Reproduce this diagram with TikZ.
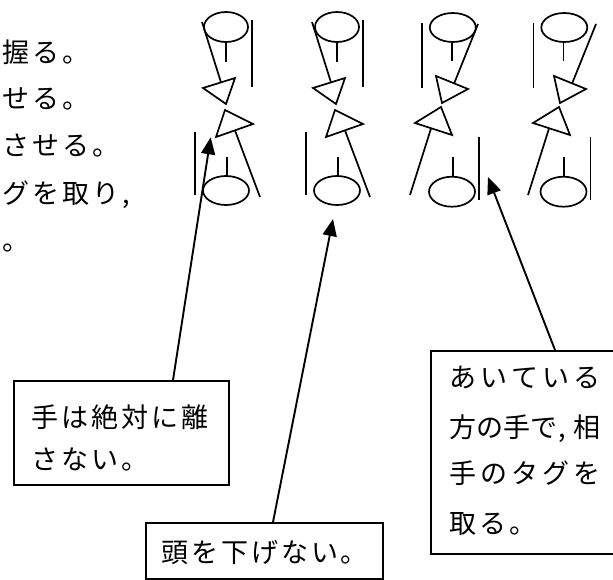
\documentclass[tikz,border=0pt]{standalone}
\usepackage{fontspec}
\usetikzlibrary{arrows.meta}
\newfontfamily\jp[LetterSpace=11]{Noto Sans CJK JP}
\newfontfamily\jpn{Noto Sans CJK JP}

\tikzset{
  fig/.style={line width=1.7pt, line join=miter},
  boxstyle/.style={draw, line width=1.9pt, inner sep=0pt},
  callout/.style={line width=1.9pt, -{Triangle[length=17pt,width=14pt]}},
  jtext/.style={anchor=west, inner sep=0pt, text height=23.8pt, text depth=3.2pt,
    font=\fontsize{27}{32}\jp},
  % player facing down: heads, necks and side lines
  frameA/.pic={
    \draw[fig] (226,27) ellipse [x radius=22, y radius=15];
    \draw[fig] (226,42) -- (226,62);
    \draw[fig] (252,20) -- (252,87);
    \draw[fig] (226,190.5) ellipse [x radius=23, y radius=14.5];
    \draw[fig] (227,157) -- (227,176);
    \draw[fig] (195,132) -- (195,195);
  },
  % player facing down: arms and hands
  bodyA/.pic={
    \draw[fig] (202,22) -- (221,82.4);
    \draw[fig] (203,88) -- (235,78) -- (226,104) -- cycle;
    \draw[fig] (225,110) -- (253,124) -- (216,137) -- cycle;
    \draw[fig] (235,130.5) -- (260,197);
  },
  % mirrored player: heads, necks and side lines
  frameB/.pic={
    \draw[fig] (452.8,27.5) ellipse [x radius=23, y radius=14.5];
    \draw[fig] (452,42) -- (452,61);
    \draw[fig] (422,23) -- (422,88);
    \draw[fig] (452,191.7) ellipse [x radius=23, y radius=15];
    \draw[fig] (452.7,157) -- (452.7,177);
    \draw[fig] (479,137) -- (479,200);
  },
  % mirrored player: arms and hands
  bodyB/.pic={
    \draw[fig] (478,24) -- (454.3,83);
    \draw[fig] (436,76) -- (468,89) -- (442,103) -- cycle;
    \draw[fig] (441,107) -- (415,123) -- (452,135) -- cycle;
    \draw[fig] (431,128.5) -- (410,195);
  },
}

\begin{document}
\begin{tikzpicture}[x=1pt, y=-1pt]
  \useasboundingbox (0,0) rectangle (613,579);
  \clip (0,0) rectangle (613,579);

  % four figures
  \pic at (0,0) {frameA};
  \pic at (0,0) {bodyA};
  \pic at (111,0) {frameA};
  \pic at (110,0) {bodyA};
  \pic at (0,0) {frameB};
  \pic at (0,0) {bodyB};
  \pic at (111.5,0) {frameB};
  \pic at (118,0) {bodyB};

  % left column of text
  \node[jtext] (l1) at (2,52)  {握る。};
  \node[jtext] (l2) at (2,98)  {せる。};
  \node[jtext] (l3) at (2,145) {させる。};
  \node[jtext] (l4) at (2,193) {グを取り,};
  \node[jtext] (l5) at (2,240) {。};

  % callout boxes
  \node[boxstyle, minimum width=215pt, minimum height=104pt, anchor=north west] (b1) at (13,380) {};
  \node[boxstyle, minimum width=237pt, minimum height=56pt, anchor=north west] (b2) at (145,522) {};
  \node[boxstyle, minimum width=190pt, minimum height=203pt, anchor=north west] (b3) at (430,350) {};

  \node[jtext] (t1a) at (31,417) {手は絶対に離};
  \node[jtext] (t1b) at (31,459) {さない。};
  \node[jtext] (t2) at (161,552) {頭を下げない。};
  \node[jtext] (t3a) at (449,377) {\jpn\makebox[151pt][s]{あ\hfil い\hfil て\hfil い\hfil る}};
  \node[jtext] (t3b) at (449,427) {\jpn\makebox[151pt][s]{方\hfil の\hfil 手\hfil で\hspace{1pt},\hspace{7pt}\hfil 相}};
  \node[jtext] (t3c) at (449,473) {\jpn\makebox[151pt][s]{手\hfil の\hfil タ\hfil グ\hfil を}};
  \node[jtext] (t3d) at (449,523) {取る。};

  % arrow tips
  \coordinate (tip1) at (210.7,137.3);
  \coordinate (tip2) at (333,219);
  \coordinate (tip3) at (488,177);

  \draw[callout] ([xshift=160pt]b1.north west) -- (tip1);
  \draw[callout] ([xshift=128pt]b2.north west) -- (tip2);
  \draw[callout] ([xshift=125pt]b3.north west) -- (tip3);
\end{tikzpicture}
\end{document}
